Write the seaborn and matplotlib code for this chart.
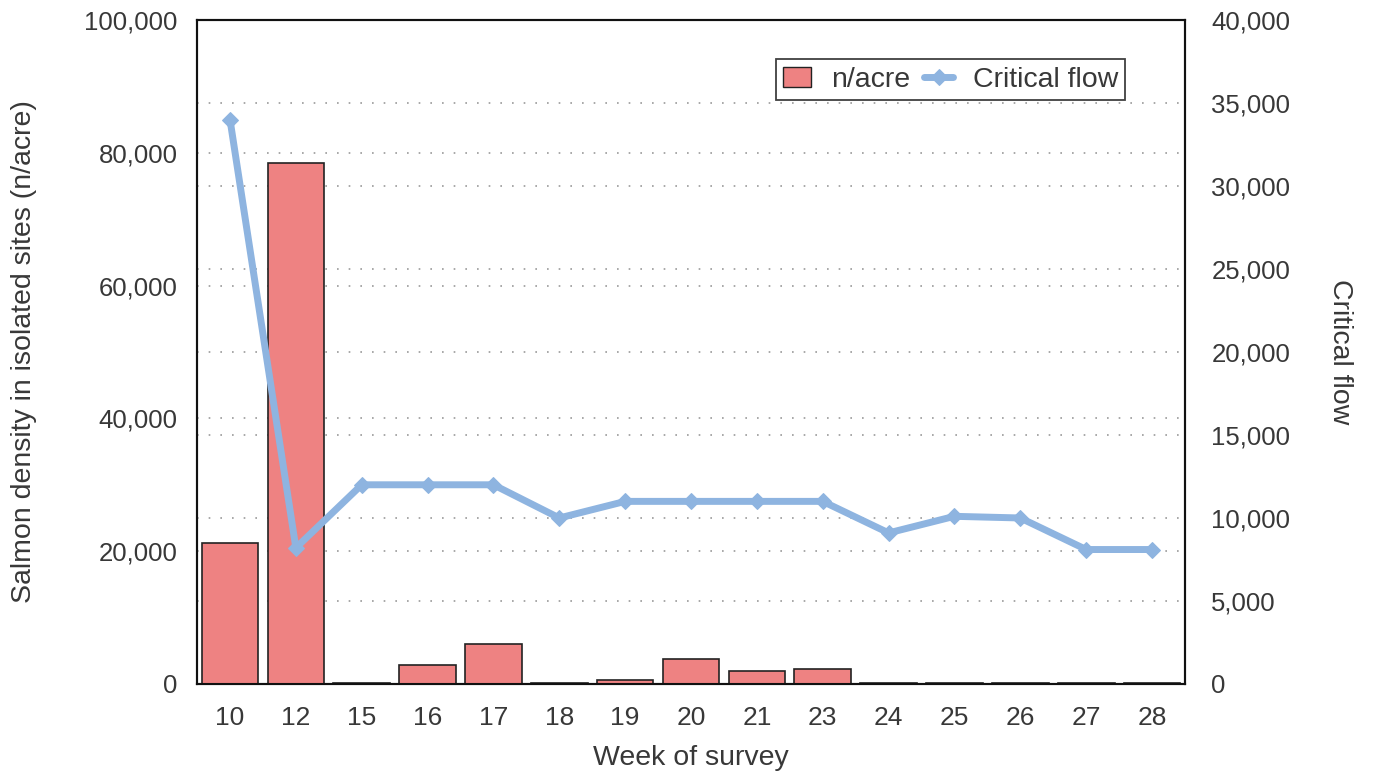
import matplotlib
matplotlib.use("Agg")
import matplotlib.pyplot as plt
import matplotlib.ticker as mticker
import numpy as np
import pandas as pd
import seaborn as sns

# values
weeks = ["10", "12", "15", "16", "17", "18", "19", "20", "21", "23", "24", "25", "26", "27", "28"]
density = [21300, 78500, 150, 2800, 6000, 100, 550, 3700, 2000, 2200, 100, 100, 100, 100, 100]
critical_flow = [34000, 8200, 12000, 12000, 12000, 10000, 11000, 11000, 11000, 11000,
                 9100, 10100, 10000, 8100, 8100]

BAR_COLOR = "#EE8282"
LINE_COLOR = "#8EB4E0"
TEXT_COLOR = "#383838"

sns.set_style("white")
plt.rcParams["font.family"] = ["Liberation Sans", "DejaVu Sans"]

df = pd.DataFrame({"week": weeks, "density": density, "flow": critical_flow})
df["pos"] = np.arange(len(df))

fig = plt.figure(figsize=(13.79, 7.74), dpi=100)
ax = fig.add_axes([0.1429, 0.1163, 0.7164, 0.8579])
ax2 = ax.twinx()

# bars on left axis
sns.barplot(data=df, x="week", y="density", color=BAR_COLOR, width=0.86,
            edgecolor="#222222", linewidth=1.2, saturation=1, ax=ax, zorder=3)

# critical flow on right axis
sns.lineplot(data=df, x="pos", y="flow", color=LINE_COLOR, linewidth=5,
             marker="D", markersize=8, markeredgecolor=LINE_COLOR, ax=ax2,
             label="Critical flow", legend=False, zorder=4)

ax.set_ylim(0, 100000)
ax2.set_ylim(0, 40000)
ax.set_xlim(-0.5, len(weeks) - 0.5)
ax.set_yticks(np.arange(0, 100001, 20000))
ax2.set_yticks(np.arange(0, 40001, 5000))

# right-axis gridlines drawn on the left axis so they sit behind the bars
ratio = 100000 / 40000
ax.set_yticks(np.arange(5000, 40000, 5000) * ratio, minor=True)
ax.grid(False)
ax2.grid(False)
ax.yaxis.grid(True, which="both", color="#9A9A9A", linestyle=(0, (1, 6)), linewidth=1.2, zorder=0)
ax.set_axisbelow(True)

fmt = mticker.StrMethodFormatter("{x:,.0f}")
ax.yaxis.set_major_formatter(fmt)
ax2.yaxis.set_major_formatter(fmt)

for a in (ax, ax2):
    a.tick_params(axis="both", which="both", length=0, labelsize=18.5, colors=TEXT_COLOR, pad=14)
    for s in a.spines.values():
        s.set_visible(True)
        s.set_color("#111111")
        s.set_linewidth(1.5)

ax.tick_params(axis="x", pad=16, labelsize=19)
ax2.tick_params(axis="y", pad=19)
ax.set_xlabel("Week of survey", fontsize=20.5, color=TEXT_COLOR)
ax.set_ylabel("Salmon density in isolated sites (n/acre)", fontsize=20.5, color=TEXT_COLOR)
ax2.set_ylabel("Critical flow", fontsize=20.5, color=TEXT_COLOR, rotation=270, va="center")
ax.xaxis.set_label_coords(0.5, -0.092)
ax.yaxis.set_label_coords(-0.162, 0.5)
ax2.yaxis.set_label_coords(1.157, 0.5)

# combined legend
h1 = plt.Rectangle((0, 0), 1, 1, facecolor=BAR_COLOR, edgecolor="#222222", linewidth=1)
h2 = ax2.get_lines()[0]
leg = ax2.legend([h1, h2], ["n/acre", "Critical flow"], ncol=2, loc="upper right",
                 bbox_to_anchor=(0.954, 0.962), fontsize=20.5, frameon=True, fancybox=False,
                 handlelength=1.0, handletextpad=0.7, columnspacing=0.5, borderpad=0.25)
leg.get_frame().set_edgecolor("#111111")
leg.get_frame().set_linewidth(1.3)
for t in leg.get_texts():
    t.set_color(TEXT_COLOR)

fig.savefig("out.png", dpi=100)
